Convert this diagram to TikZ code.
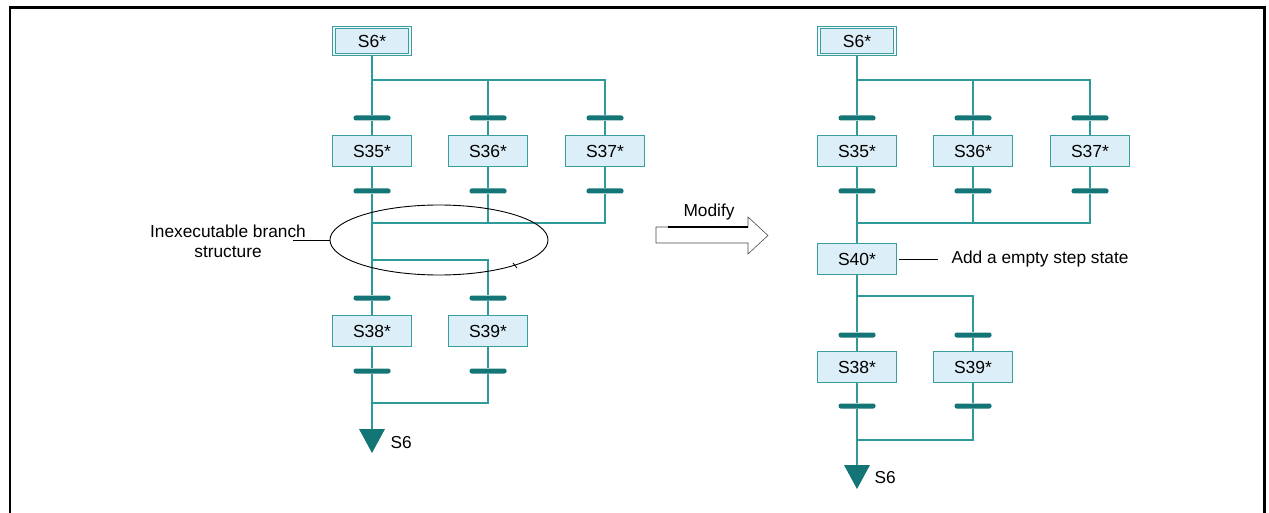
\documentclass[tikz,border=0pt]{standalone}
\usepackage{fontspec}
\setmainfont{Liberation Sans}
\usetikzlibrary{shapes.geometric}
\definecolor{tline}{HTML}{2E9A9A}
\definecolor{tbarc}{HTML}{137575}
\definecolor{bfill}{HTML}{DCEEF7}
\definecolor{tedge}{HTML}{3A9E9E}
\newcommand\sfctop[2]{%
\begin{scope}[shift={(#2,0)}]
  \node[initbox] (#1-s6) at (372,41) {S6*};
  \node[transbar] (#1-t35a) at (372,118) {};
  \node[transbar] (#1-t36a) at (488,118) {};
  \node[transbar] (#1-t37a) at (605,118) {};
  \node[stepbox] (#1-s35) at (372,151) {S35*};
  \node[stepbox] (#1-s36) at (488,151) {S36*};
  \node[stepbox] (#1-s37) at (605,151) {S37*};
  \node[transbar] (#1-t35b) at (372,191) {};
  \node[transbar] (#1-t36b) at (488,191) {};
  \node[transbar] (#1-t37b) at (605,191) {};
  \coordinate (#1-d1) at (372,80);
  \coordinate (#1-d2) at (488,80);
  \coordinate (#1-d3) at (605,80);
  \coordinate (#1-c1) at (372,223);
  \coordinate (#1-c2) at (488,223);
  \coordinate (#1-c3) at (605,223);
  \draw[link] (#1-s6) -- (#1-d1) -- (#1-t35a) -- (#1-s35) -- (#1-t35b) -- (#1-c1);
  \draw[link] (#1-d1) -- (#1-d3) -- (#1-t37a) -- (#1-s37) -- (#1-t37b) -- (#1-c3) -- (#1-c1);
  \draw[link] (#1-d2) -- (#1-t36a) -- (#1-s36) -- (#1-t36b) -- (#1-c2);
\end{scope}}
\begin{document}
\begin{tikzpicture}[x=1pt,y=-1pt,
  lbl/.style={font=\fontsize{17.3}{20}\selectfont},
  stepbox/.style={draw=tedge, line width=1.6pt, fill=bfill, minimum width=79pt, minimum height=31pt, inner sep=0pt, font=\fontsize{17.5}{20}\selectfont},
  initbox/.style={stepbox, double=bfill!40!white, double distance=1.6pt, line width=1.1pt, minimum width=76pt, minimum height=27pt},
  transbar/.style={fill=tbarc, minimum width=37pt, minimum height=5pt, inner sep=0pt, rounded corners=2.2pt},
  link/.style={draw=tline, line width=1.3pt},
]
\useasboundingbox (0,0) rectangle (1269,513);
\fill[white] (0,0) rectangle (1269,513);
% frame
\draw[line width=2.6pt] (10,513) -- (10,7.5) -- (1264.5,7.5) -- (1264.5,513);

% top parts
\sfctop{L}{0}
\sfctop{R}{485}

% left lower part
\coordinate (L-e1) at (372,260);
\coordinate (L-e2) at (488,260);
\node[transbar] (L-t38a) at (372,298) {};
\node[transbar] (L-t39a) at (488,298) {};
\node[stepbox] (L-s38) at (372,331) {S38*};
\node[stepbox] (L-s39) at (488,331) {S39*};
\node[transbar] (L-t38b) at (372,371) {};
\node[transbar] (L-t39b) at (488,371) {};
\coordinate (L-f1) at (372,403);
\coordinate (L-f2) at (488,403);
\coordinate (L-end) at (372,430);
\draw[link] (L-c1) -- (L-e1) -- (L-t38a) -- (L-s38) -- (L-t38b) -- (L-f1) -- (L-end);
\draw[link] (L-e1) -- (L-e2) -- (L-t39a) -- (L-s39) -- (L-t39b) -- (L-f2) -- (L-f1);
\fill[tbarc] (359,429) -- (385,429) -- (372,453) -- cycle;
\node[lbl, anchor=west] (L-s6lab) at (387,443) {S6};

% ellipse and its label
\node[draw, ellipse, line width=0.9pt, minimum width=218pt, minimum height=70pt] (ell) at (439,240) {};
\draw[line width=0.8pt] (513,263) -- (517,268);
\node[lbl, align=center] (inex) at (228,241) {Inexecutable branch\\structure};
\draw[line width=0.9pt] (293,240) -- (ell.west);

% modify arrow
\draw[gray!60!black, line width=0.6pt] (656,227) -- (748,227) -- (748,217) -- (768,235.5) -- (748,254) -- (748,243) -- (656,243) -- cycle;
\draw[line width=2pt] (668,227) -- (748,227);
\node[lbl] (mod) at (709,212) {Modify};

% right lower part
\node[stepbox] (R-s40) at (857,259) {S40*};
\coordinate (R-e1) at (857,296);
\coordinate (R-e2) at (973,296);
\node[transbar] (R-t38a) at (857,335) {};
\node[transbar] (R-t39a) at (973,335) {};
\node[stepbox] (R-s38) at (857,367) {S38*};
\node[stepbox] (R-s39) at (973,367) {S39*};
\node[transbar] (R-t38b) at (857,406) {};
\node[transbar] (R-t39b) at (973,406) {};
\coordinate (R-f1) at (857,440);
\coordinate (R-f2) at (973,440);
\coordinate (R-end) at (857,466);
\draw[link] (R-c1) -- (R-s40) -- (R-e1) -- (R-t38a) -- (R-s38) -- (R-t38b) -- (R-f1) -- (R-end);
\draw[link] (R-e1) -- (R-e2) -- (R-t39a) -- (R-s39) -- (R-t39b) -- (R-f2) -- (R-f1);
\fill[tbarc] (844,465) -- (870,465) -- (857,489) -- cycle;
\node[lbl, anchor=west] (R-s6lab) at (871,478) {S6};

\node[lbl, anchor=west] (addtxt) at (948,259) {Add a empty step state};
\draw[line width=0.9pt] ([xshift=2pt]R-s40.east) -- ([xshift=-10pt]addtxt.west);
\end{tikzpicture}
\end{document}
